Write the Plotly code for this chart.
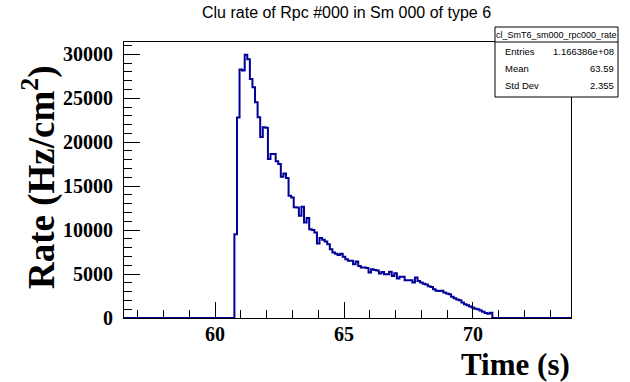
import numpy as np
import plotly.graph_objects as go

# ---------------- data ----------------
title_text = "Clu rate of Rpc #000 in Sm 000 of type 6"
x_title = "Time (s)"
y_title = "Rate (Hz/cm<sup>2</sup>)"
stats_name = "cl_SmT6_sm000_rpc000_rate"
stats_labels = ["Entries", "Mean", "Std Dev"]
stats_values = ["1.166386e+08", "63.59", "2.355"]

x_range = [56.47, 73.80]
y_range = [0, 31400]
first_edge = 60.75
bin_width = 0.1
rate = [
    9540, 22800, 28280, 28150, 29950, 29450, 27200, 26250, 24550, 22850,
    20600, 21700, 21650, 18100, 18650, 18650, 17820, 17520, 16080, 16450,
    15930, 13910, 13720, 12600, 12560, 11630, 12660, 10870, 11370, 10110,
    10000, 9730, 8470, 9090, 8900, 8700, 8400, 7830, 7450, 7300,
    7180, 7300, 6960, 6690, 6500, 6500, 6120, 6420, 5930, 5740,
    5740, 5700, 5170, 5550, 5470, 5400, 5050, 5240, 4980, 4980,
    5260, 4790, 5100, 4480, 4680, 4680, 4300, 4300, 4300, 4030,
    4600, 4220, 4030, 3910, 3800, 3620, 3530, 3270, 3100, 3080,
    3100, 2890, 2800, 2700, 2430, 2250, 2100, 2020, 1750, 1560,
    1450, 1300, 1200, 1050, 1000, 850, 700, 580, 490, 600,
]
x_tick_vals = [60, 65, 70]
y_tick_vals = [0, 5000, 10000, 15000, 20000, 25000, 30000]

# ---------------- geometry ----------------
W, H = 630, 382
L, R, T, B = 124, 571, 42, 318


def px(x):
    return (x - L) / (R - L)


def py(y):
    return (B - y) / (B - T)


edges = first_edge + bin_width * np.arange(len(rate) + 1)
xs = [x_range[0]] + list(edges) + [x_range[1]]
ys = [0] + list(rate) + [0, 0]

fig = go.Figure()
fig.add_trace(go.Scatter(
    x=xs, y=ys, mode="lines", line=dict(shape="hv", color="#000099", width=2),
    showlegend=False, hoverinfo="skip", cliponaxis=True,
))

tick_font = dict(family="Liberation Serif", size=20, color="black", weight="bold")

fig.update_layout(
    width=W, height=H,
    margin=dict(l=L, r=W - R, t=T, b=H - B, pad=0),
    paper_bgcolor="white", plot_bgcolor="white",
    showlegend=False,
    xaxis=dict(
        range=x_range, tickmode="array", tickvals=x_tick_vals,
        ticktext=[str(v) for v in x_tick_vals],
        ticks="inside", ticklen=16, tickwidth=1, tickcolor="black",
        minor=dict(ticks="inside", ticklen=8, tickwidth=1, tickcolor="black", dtick=1, tick0=0),
        showline=True, linecolor="black", linewidth=1, mirror=True,
        showgrid=False, zeroline=False, tickfont=tick_font, ticklabelstandoff=-2,
    ),
    yaxis=dict(
        range=y_range, tickmode="array", tickvals=y_tick_vals,
        ticktext=[str(v) for v in y_tick_vals],
        ticks="inside", ticklen=16, tickwidth=1, tickcolor="black",
        minor=dict(ticks="inside", ticklen=8, tickwidth=1, tickcolor="black", dtick=1000, tick0=0),
        showline=True, linecolor="black", linewidth=1, mirror=True,
        showgrid=False, zeroline=False, tickfont=tick_font, ticklabelstandoff=6,
    ),
)

ann = []
# title
ann.append(dict(x=px(346), y=py(13), xref="paper", yref="paper", text=title_text,
                showarrow=False, xanchor="center", yanchor="middle",
                font=dict(family="Liberation Sans", size=16, color="black")))
# axis titles
ann.append(dict(x=px(572), y=py(364), xref="paper", yref="paper", text=x_title,
                showarrow=False, xanchor="right", yanchor="middle",
                font=dict(family="Liberation Serif", size=31, color="black", weight="bold")))
ann.append(dict(x=px(39), y=py(177), xref="paper", yref="paper", text=y_title,
                showarrow=False, xanchor="center", yanchor="middle", textangle=-90,
                font=dict(family="Liberation Serif", size=37, color="black", weight="bold")))

# stats box
bx0, bx1, by0, by1, bsep = 495, 618, 27, 97, 42
shapes = [
    dict(type="rect", xref="paper", yref="paper", x0=px(bx0), x1=px(bx1), y0=py(by1), y1=py(by0),
         line=dict(color="black", width=1), fillcolor="white", layer="above"),
    dict(type="line", xref="paper", yref="paper", x0=px(bx0), x1=px(bx1), y0=py(bsep), y1=py(bsep),
         line=dict(color="black", width=1), layer="above"),
]
ann.append(dict(x=px((bx0 + bx1) / 2), y=py(34.5), xref="paper", yref="paper", text=stats_name,
                showarrow=False, xanchor="center", yanchor="middle",
                font=dict(family="Liberation Sans", size=9, color="black")))
row_y = [51, 68, 85]
for lab, val, yy in zip(stats_labels, stats_values, row_y):
    ann.append(dict(x=px(503), y=py(yy), xref="paper", yref="paper", text=lab,
                    showarrow=False, xanchor="left", yanchor="middle",
                    font=dict(family="Liberation Sans", size=9.5, color="black")))
    ann.append(dict(x=px(616), y=py(yy), xref="paper", yref="paper", text=val,
                    showarrow=False, xanchor="right", yanchor="middle",
                    font=dict(family="Liberation Sans", size=9.5, color="black")))

fig.update_layout(annotations=ann, shapes=shapes)
fig.write_html("out.html")
